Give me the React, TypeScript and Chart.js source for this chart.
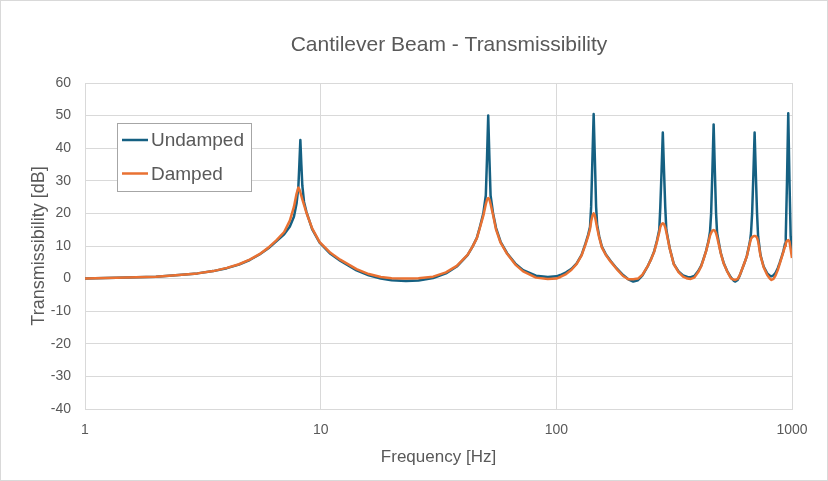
import { useEffect, useRef } from "react";
import { Chart, registerables } from "chart.js";

Chart.register(...registerables);

// values, one row per stretch of the curve
const freqHz = [
  1, 1.5, 2, 2.5, 3, 3.5, 4, 4.5, 5, 5.5, 6, 6.5, 7, 7.4,
  7.7, 7.9, 8.04, 8.12, 8.2, 8.28, 8.36, 8.5, 8.7, 9.2, 9.9,
  11, 12.1, 14.2, 16, 18, 20, 23, 26, 30, 34, 37.8, 42, 44.1, 46, 47.4,
  49.0, 50.2, 50.8, 51.4, 52.0, 52.6, 53.9, 55.5,
  58, 61.8, 67, 72.3, 82, 92, 100, 104, 110, 116, 122, 128, 133, 136.5,
  139, 140.5, 142.3, 144, 145.7, 147.5, 149, 152,
  156, 162, 170, 180, 192, 202, 212, 222, 232, 245, 252, 260, 267,
  273.4, 276.2, 279.6, 283, 286.4, 289.8, 292.9,
  302.8, 315, 330, 345, 360, 372, 385, 400, 412, 421, 432, 442,
  449, 453.8, 459.4, 465, 470.6, 476.2, 481,
  498, 513, 530, 550, 565, 575, 588, 600, 615, 630, 643, 655, 665,
  670, 677.3, 685.7, 694, 702.3, 710.7, 718,
  735, 758, 785, 805, 818, 835, 852, 870, 888, 905, 920, 935,
  941, 952.4, 964, 975.6, 987, 1000,
];

const undampedDb = [
  0, 0.3, 0.6, 1.1, 1.6, 2.3, 3.2, 4.3, 5.7, 7.4, 9.3, 11.5, 13.6, 16.0,
  19.0, 23.0, 28.0, 35.0, 42.5, 35.0, 28.5, 23.5, 20.5, 15.2, 11.0,
  7.6, 5.5, 2.5, 1.0, 0.0, -0.5, -0.7, -0.6, 0.2, 1.6, 3.7, 7.2, 9.8, 12.5, 15.9,
  20.0, 25.5, 37.0, 50.0, 37.0, 25.5, 20.0, 15.5,
  11.3, 7.8, 4.6, 2.6, 0.9, 0.5, 0.7, 1.1, 1.9, 3.0, 4.7, 7.3, 10.8, 13.5,
  15.9, 22.0, 37.0, 50.5, 37.0, 22.0, 16.5, 13.0,
  9.8, 7.5, 5.4, 3.2, 1.1, -0.2, -0.9, -0.5, 1.0, 4.0, 5.9, 8.3, 11.5,
  15.0, 22.0, 33.0, 44.8, 33.0, 22.0, 15.0,
  9.3, 4.5, 2.2, 1.0, 0.5, 0.4, 0.8, 2.3, 4.0, 6.0, 8.5, 11.5,
  14.5, 20.0, 33.0, 47.3, 33.0, 20.0, 14.0,
  8.0, 4.8, 2.4, 0.4, -0.6, -0.9, -0.4, 0.9, 3.0, 5.0, 6.9, 9.5, 12.0,
  14.0, 20.0, 32.0, 44.8, 32.0, 20.0, 13.0,
  7.2, 3.7, 1.6, 0.9, 0.7, 1.0, 1.8, 3.2, 5.0, 6.8, 8.5, 10.8,
  13.0, 30.0, 50.7, 30.0, 13.0, 8.5,
];

const dampedDb = [
  0, 0.3, 0.6, 1.1, 1.6, 2.3, 3.3, 4.4, 5.8, 7.5, 9.5, 11.8, 14.3, 17.8,
  22.0, 26.0, 27.9, 27.4, 26.5, 25.4, 24.3, 22.6, 20.2, 15.4, 11.2,
  7.9, 5.8, 2.9, 1.4, 0.5, 0.1, 0.0, 0.1, 0.6, 1.9, 3.9, 7.3, 9.8, 12.4, 15.6,
  19.3, 22.8, 24.2, 24.7, 24.3, 22.9, 19.5, 15.0,
  11.0, 7.6, 4.3, 2.2, 0.3, -0.1, 0.0, 0.5, 1.4, 2.7, 4.5, 7.1, 10.5, 13.0,
  15.2, 17.5, 19.3, 20.0, 19.3, 17.2, 15.5, 12.6,
  9.6, 7.3, 5.2, 3.0, 0.8, -0.2, -0.2, 0.0, 1.2, 4.0, 5.8, 8.2, 11.2,
  14.2, 15.8, 16.7, 17.0, 16.7, 15.7, 14.3,
  9.2, 4.4, 2.0, 0.6, 0.0, -0.1, 0.3, 2.0, 3.8, 5.8, 8.4, 11.2,
  13.2, 14.0, 14.7, 14.9, 14.7, 13.9, 12.8,
  7.9, 4.6, 2.3, 0.1, -0.3, -0.4, -0.1, 1.0, 3.0, 5.0, 6.8, 9.3, 11.3,
  12.2, 12.7, 13.0, 13.1, 13.0, 12.5, 11.5,
  7.0, 3.5, 1.1, 0.0, -0.4, -0.1, 1.0, 2.6, 4.7, 6.6, 8.3, 10.0,
  10.8, 11.6, 11.8, 11.4, 9.0, 6.3,
];

const seriesLabels = ["Undamped", "Damped"];
const seriesColors = ["#156082", "#E97132"];
const xTicks = [1, 10, 100, 1000];
const yMin = -40;
const yMax = 60;
const yStep = 10;

const chartTitle = "Cantilever Beam - Transmissibility";
const xTitle = "Frequency [Hz]";
const yTitle = "Transmissibility [dB]";

const FONT = "'Liberation Sans', Arial, sans-serif";
const TEXT = "#595959";
const GRID = "#d9d9d9";

// title, boxed legend and outer frame, drawn the way Excel lays them out
const excelDecor = {
  id: "excelDecor",
  afterDraw(chart: any) {
    const { ctx, chartArea } = chart;
    ctx.save();
    ctx.strokeStyle = GRID;
    ctx.lineWidth = 1;
    ctx.strokeRect(0.5, 0.5, chart.width - 1, chart.height - 1);

    ctx.fillStyle = TEXT;
    ctx.font = `21px ${FONT}`;
    ctx.textAlign = "center";
    ctx.textBaseline = "middle";
    ctx.fillText(chartTitle, 449, 45);

    const lx = chartArea.left + 32;
    const ly = chartArea.top + 40;
    const lw = 134;
    const lh = 68;
    ctx.fillStyle = "#ffffff";
    ctx.fillRect(lx, ly, lw, lh);
    ctx.strokeStyle = "#a6a6a6";
    ctx.strokeRect(lx + 0.5, ly + 0.5, lw, lh);

    chart.data.datasets.forEach((ds: any, i: number) => {
      const y = ly + 17 + i * 33.5;
      ctx.strokeStyle = ds.borderColor;
      ctx.lineWidth = 2.5;
      ctx.beginPath();
      ctx.moveTo(lx + 5, y);
      ctx.lineTo(lx + 31, y);
      ctx.stroke();
      ctx.fillStyle = TEXT;
      ctx.font = `19px ${FONT}`;
      ctx.textAlign = "left";
      ctx.textBaseline = "middle";
      ctx.fillText(ds.label, lx + 34, y + 1);
    });
    ctx.restore();
  },
};

const App = () => {
  const canvasRef = useRef<HTMLCanvasElement>(null);
  const chartRef = useRef<Chart | null>(null);

  useEffect(() => {
    if (!canvasRef.current) return;
    if (chartRef.current) chartRef.current.destroy();

    const seriesValues = [undampedDb, dampedDb];

    chartRef.current = new Chart(canvasRef.current, {
      type: "line",
      data: {
        datasets: seriesLabels.map((label, i) => ({
          label,
          data: freqHz.map((f, j) => ({ x: f, y: seriesValues[i][j] })),
          borderColor: seriesColors[i],
          backgroundColor: seriesColors[i],
          borderWidth: 2.5,
          borderJoinStyle: "round" as const,
          pointRadius: 0,
          tension: 0,
          order: 2 - i,
        })),
      },
      options: {
        animation: false,
        responsive: false,
        layout: { padding: { top: 83, right: 36, left: 0, bottom: 0 } },
        plugins: {
          legend: { display: false },
          title: { display: false },
          tooltip: { enabled: false },
        },
        scales: {
          x: {
            type: "logarithmic",
            min: 1,
            max: 1000,
            afterBuildTicks: (scale: any) => {
              scale.ticks = xTicks.map((v) => ({ value: v }));
            },
            afterFit: (scale: any) => {
              scale.height = 72;
            },
            grid: { color: GRID, drawTicks: false },
            border: { color: GRID },
            ticks: {
              color: TEXT,
              font: { family: FONT, size: 14 },
              padding: 13,
              maxRotation: 0,
              callback: (value: any) => String(value),
            },
            title: {
              display: true,
              text: xTitle,
              color: TEXT,
              font: { family: FONT, size: 17 },
              padding: { top: 0, bottom: 13 },
            },
          },
          y: {
            min: yMin,
            max: yMax,
            afterFit: (scale: any) => {
              scale.width = 85;
            },
            grid: { color: GRID, drawTicks: false },
            border: { color: GRID },
            ticks: {
              stepSize: yStep,
              color: TEXT,
              font: { family: FONT, size: 14 },
              padding: 14,
            },
            title: {
              display: true,
              text: yTitle,
              color: TEXT,
              font: { family: FONT, size: 18 },
              padding: { top: 28, bottom: 0 },
            },
          },
        },
      },
      plugins: [excelDecor],
    });

    return () => {
      if (chartRef.current) {
        chartRef.current.destroy();
        chartRef.current = null;
      }
    };
  }, []);

  return (
    <div style={{ position: "fixed", left: 0, top: 0, width: 828, height: 481, background: "#ffffff" }}>
      <canvas ref={canvasRef} width={828} height={481}></canvas>
    </div>
  );
};

export default App;
